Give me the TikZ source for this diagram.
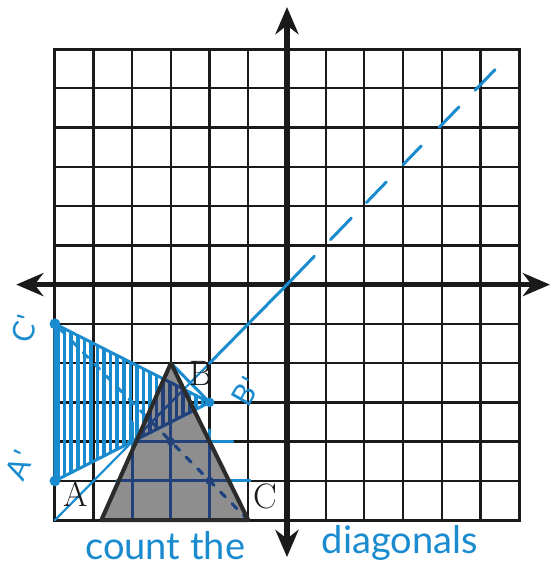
\documentclass[tikz,border=0pt]{standalone}
\usepackage{fontspec}
\newfontfamily\handfont{Lato}
\usetikzlibrary{arrows.meta}
\definecolor{cpen}{HTML}{1B8BD0}
\definecolor{cnavy}{HTML}{22407A}
\definecolor{cgrid}{HTML}{1A1A1A}
\definecolor{cshade}{HTML}{8E8E8E}
\definecolor{cedge}{HTML}{2B2B2B}
\tikzset{
  gridline/.style={cgrid, line width=1.7pt},
  axis/.style={
    {Stealth[length=20pt,width=17pt]}-{Stealth[length=20pt,width=17pt]},
    cgrid, line width=3.8pt,
  },
  pen/.style={cpen, line width=2.2pt, line cap=round, line join=round},
  dashpen/.style={pen, dash pattern=on 29pt off 17pt on 22pt off 16pt on 21pt off 18pt
                  on 19pt off 19pt on 21pt off 17pt on 21pt off 30pt},
  dotpen/.style={pen, dash pattern=on 5pt off 7pt},
  hatch/.style={pen, line width=2.6pt},
  vlbl/.style={font=\fontsize{26}{28}\selectfont, text=cgrid, inner sep=0pt},
  hand/.style={font=\handfont\fontsize{28}{30}\selectfont, text=cpen, inner sep=0pt},
  handsm/.style={hand, font=\handfont\fontsize{22}{24}\selectfont},
}
% blue pen work, drawn in the colour given
\newcommand\penmarks[1]{%
  \begin{scope}
    \clip (Cp) -- (Bp) -- (Ap) -- cycle;
    \foreach \x in {-5.92,-5.75,...,-2.1}
      \draw[hatch, #1] (\x,-6) -- (\x,0);
  \end{scope}
  \draw[pen, #1] (Cp) -- (Bp) -- (Ap) -- cycle;
  \draw[pen, #1] (O) -- (-2,-2);
  \draw[pen, #1, line width=1.6pt] (-2,-2) -- (-6,-6);
  \draw[pen, #1] (B) -- (Bp);
  \draw[dotpen, #1] (C) -- (Cp);
  \draw[pen, #1] (-4.1,-4) -- (-1.4,-4);
  \draw[pen, #1] (-4.4,-5) -- (-0.95,-5);
  \draw[pen, #1] (-4,-3.5) -- (-4,-6);
  \draw[pen, #1] (-3,-2.7) -- (-3,-6);
  \draw[pen, #1] (-2,-3.7) -- (-2,-6);
  \fill[#1] (-3,-4) circle (3pt);
  \fill[#1] (-2,-5) circle (3pt);
  \fill[#1] (Cp) circle (4pt);
  \fill[#1] (Ap) circle (4pt);
  \fill[#1] (Bp) circle (3.5pt);
}

\begin{document}
\begin{tikzpicture}[x=1cm, y=1.015cm]
\useasboundingbox (-7.42,-7.27) rectangle (6.83,7.25);

%% grid and axes
\foreach \i in {-6,...,6} {
  \draw[gridline] (\i,-6) -- (\i,6);
  \draw[gridline] (-6,\i) -- (6,\i);
}
\draw[gridline, line width=2.2pt] (-6,-6) rectangle (6,6);
\draw[axis] (0,-6.94) -- (0,7.07);
\draw[axis] (-7.0,0) -- (6.8,0);

%% points
\coordinate (O) at (0,0);
\coordinate (A) at (-4.8,-6);
\coordinate (B) at (-3,-2);
\coordinate (C) at (-1,-6);
\coordinate (Ap) at (-6,-5);
\coordinate (Bp) at (-2,-3);
\coordinate (Cp) at (-6,-1);

%% shaded triangle ABC
\fill[cshade] (A) -- (B) -- (C) -- cycle;

%% line y = x
\draw[dashpen] (O) -- (5.62,5.72);

%% pen work, darker where it crosses the shading
\penmarks{cpen}
\begin{scope}
  \clip (A) -- (B) -- (C) -- cycle;
  \penmarks{cnavy}
\end{scope}
\draw[cedge, line width=3pt, line join=round] (A) -- (B) -- (C) -- cycle;

%% labels
\node[vlbl] (lblA) at (-5.46,-5.33) {A};
\node[vlbl] (lblB) at (-2.22,-2.25) {B};
\node[vlbl] (lblC) at (-0.57,-5.4) {C};
\node[handsm, rotate=75] (lblCp) at (-6.78,-1.13) {C\kern1pt'};
\node[handsm, rotate=65] (lblAp) at (-6.92,-4.6) {A\kern1pt'};
\node[handsm, rotate=60] (lblBp) at (-1.05,-2.72) {B\kern1pt'};
\node[hand] (note1) at (-3.15,-6.66) {count the};
\node[hand] (note2) at (2.92,-6.59) {diagonals};

\end{tikzpicture}
\end{document}
